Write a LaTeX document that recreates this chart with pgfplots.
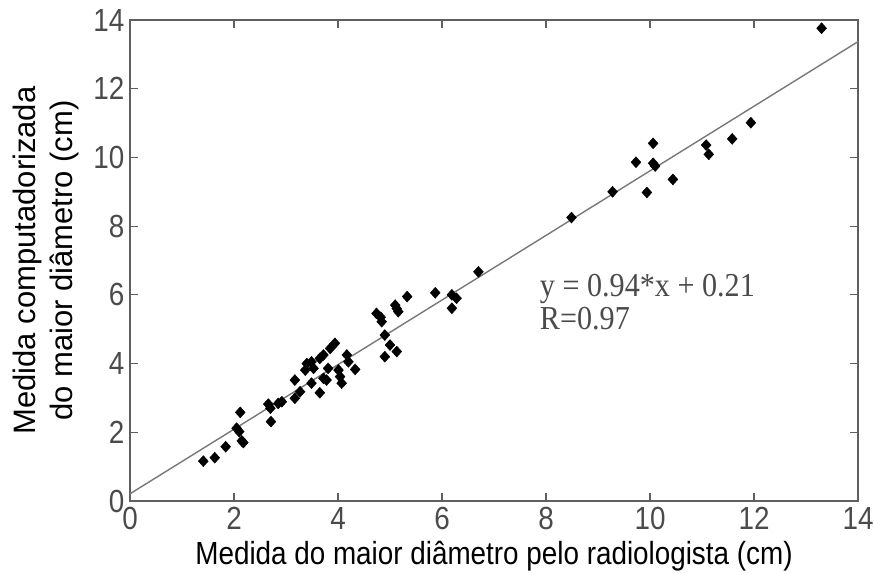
\documentclass[border=0pt]{standalone}
\usepackage{fontspec}
\setmainfont{Liberation Sans}[FakeStretch=0.87]
\newfontfamily\eqfont{Liberation Serif}[FakeStretch=0.9]
\newfontfamily\ylabfont{Liberation Sans}
\usepackage{pgfplots}
\pgfplotsset{compat=1.18}
\definecolor{framegray}{RGB}{95,95,95}
\definecolor{linegray}{RGB}{120,120,120}
\definecolor{txtgray}{RGB}{75,75,75}
\begin{document}
\begin{tikzpicture}
\useasboundingbox (-130pt,-72pt) rectangle (744pt,501pt);
\begin{axis}[
  at={(0,0)}, anchor=south west,
  scale only axis, width=728pt, height=481pt,
  xmin=0, xmax=14, ymin=0, ymax=14,
  xtick={0,2,...,14}, ytick={0,2,...,14},
  tick align=inside, major tick length=8pt,
  tick style={framegray, line width=1.2pt},
  axis line style={framegray, line width=1.6pt},
  /pgf/number format/assume math mode=true,
  ticklabel style={font=\fontsize{32}{34}\selectfont, text=txtgray},
  xticklabel style={yshift=-3pt},
  yticklabel style={xshift=-2pt},
  xlabel={Medida do maior diâmetro pelo radiologista (cm)},
  xlabel style={font=\fontsize{32}{34}\selectfont, yshift=-4pt},
  ylabel={Medida computadorizada\\do maior diâmetro (cm)},
  ylabel style={font=\ylabfont\fontsize{31}{37}\selectfont, align=center, yshift=8pt},
  clip=false,
]
\addplot[linegray, line width=1.4pt, no marks] coordinates {(0,0.21) (14,13.37)};
\addplot[only marks, mark=diamond*, mark size=5.5pt, mark options={xscale=1.2}, black] coordinates {
(1.41,1.16) (1.63,1.26) (1.84,1.58) (2.05,2.12) (2.10,2.02) (2.12,2.58)
(2.15,1.75) (2.18,1.70) (2.66,2.82) (2.70,2.70) (2.71,2.31) (2.85,2.84)
(2.92,2.89) (3.17,2.99) (3.27,3.18) (3.17,3.52) (3.37,3.81) (3.40,4.00)
(3.49,4.05) (3.53,3.86) (3.49,3.43) (3.65,4.15) (3.72,4.25) (3.85,4.44)
(3.94,4.59) (3.65,3.15) (3.72,3.57) (3.78,3.52) (3.81,3.86) (4.01,3.81)
(4.04,3.62) (4.07,3.43) (4.17,4.25) (4.20,4.05) (4.33,3.83) (4.74,5.46)
(4.84,5.22) (4.82,5.35) (5.10,5.70) (5.13,5.60) (5.16,5.51) (5.33,5.95)
(5.87,6.06) (6.19,6.00) (6.28,5.90) (6.19,5.61) (4.90,4.83) (5.00,4.54)
(5.13,4.35) (4.90,4.20) (6.70,6.67) (8.49,8.25) (9.28,9.00) (9.94,8.98)
(9.73,9.86) (10.06,10.41) (10.06,9.83) (10.10,9.75) (10.44,9.36)
(11.08,10.36) (11.13,10.09) (11.58,10.54) (11.94,11.01) (13.30,13.76)
};
\node[anchor=base west, inner sep=0pt, text=txtgray, font=\eqfont\fontsize{33.5}{35}\selectfont] at (axis cs:7.88,5.94) {y = 0.94*x + 0.21};
\node[anchor=base west, inner sep=0pt, text=txtgray, font=\eqfont\fontsize{33.5}{35}\selectfont] at (axis cs:7.88,5.00) {R=0.97};
\end{axis}
\end{tikzpicture}
\end{document}
